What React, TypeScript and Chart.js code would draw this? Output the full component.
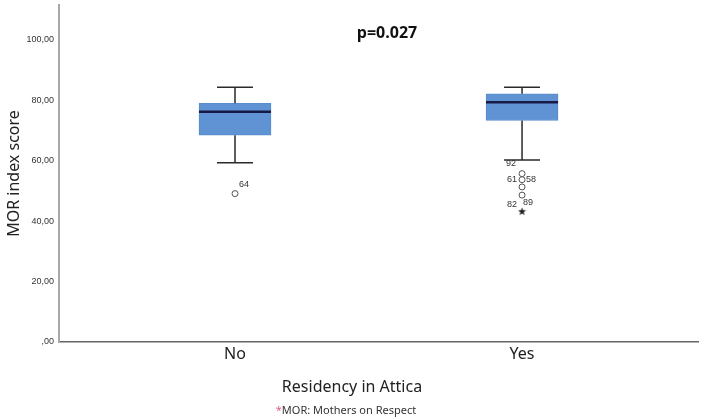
import React, { useEffect, useRef } from "react";
import { Chart, registerables } from "chart.js";

Chart.register(...registerables);

// ---- data ----
const categories = ["No", "Yes"];
const categoryX = [1, 2];
const whiskerLow = [59.3, 60.2];
const q1 = [68.4, 73.3];
const median = [76.2, 79.3];
const q3 = [79.0, 82.1];
const whiskerHigh = [84.3, 84.3];

// outliers (circles) and extremes (stars)
const outlierCat = [0, 1, 1, 1, 1];
const outlierValues = [49.1, 55.7, 53.7, 51.3, 48.6];
const extremeCat = [1];
const extremeValues = [43.2];

// case labels
const labelTexts = ["64", "92", "61", "58", "89", "82"];
const labelCat = [0, 1, 1, 1, 1, 1];
const labelValues = [49.1, 55.7, 53.7, 53.7, 48.6, 43.2];
const labelDx = [9, -11, -10, 9, 6, -10];
const labelDy = [-9, -10, 0, 0, 7, -7];

const yTicks = [0, 20, 40, 60, 80, 100];

const fmt = (v: number) => {
  const s = v.toFixed(2).replace(".", ",");
  return v === 0 ? s.replace(/^0/, "") : s;
};

function makeStar(): HTMLCanvasElement {
  const c = document.createElement("canvas");
  c.width = 9;
  c.height = 9;
  const g = c.getContext("2d")!;
  g.fillStyle = "#222";
  g.beginPath();
  const cx = 4.5, cy = 4.8, R = 4.2, r = 1.8;
  for (let i = 0; i < 10; i++) {
    const a = -Math.PI / 2 + (i * Math.PI) / 5;
    const rad = i % 2 === 0 ? R : r;
    const x = cx + rad * Math.cos(a);
    const y = cy + rad * Math.sin(a);
    if (i === 0) g.moveTo(x, y);
    else g.lineTo(x, y);
  }
  g.closePath();
  g.fill();
  return c;
}

const boxPlugin = {
  id: "boxExtras",
  afterDatasetsDraw(chart: any) {
    const { ctx, scales } = chart;
    const xs = scales.x;
    const ys = scales.y;
    ctx.save();
    for (let i = 0; i < categories.length; i++) {
      const cx = xs.getPixelForValue(categoryX[i]);
      const capHalf = 18;
      const boxHalf = 36;
      ctx.strokeStyle = "#2a2a2a";
      ctx.lineWidth = 1.5;
      // whiskers
      ctx.beginPath();
      ctx.moveTo(cx, ys.getPixelForValue(q3[i]));
      ctx.lineTo(cx, ys.getPixelForValue(whiskerHigh[i]));
      ctx.moveTo(cx - capHalf, ys.getPixelForValue(whiskerHigh[i]));
      ctx.lineTo(cx + capHalf, ys.getPixelForValue(whiskerHigh[i]));
      ctx.moveTo(cx, ys.getPixelForValue(q1[i]));
      ctx.lineTo(cx, ys.getPixelForValue(whiskerLow[i]));
      ctx.moveTo(cx - capHalf, ys.getPixelForValue(whiskerLow[i]));
      ctx.lineTo(cx + capHalf, ys.getPixelForValue(whiskerLow[i]));
      ctx.stroke();
      // median
      ctx.strokeStyle = "#161a45";
      ctx.lineWidth = 2.5;
      ctx.beginPath();
      ctx.moveTo(cx - boxHalf, ys.getPixelForValue(median[i]));
      ctx.lineTo(cx + boxHalf, ys.getPixelForValue(median[i]));
      ctx.stroke();
    }
    // case labels
    ctx.fillStyle = "#333";
    ctx.font = "9px 'Liberation Sans', Arial, sans-serif";
    ctx.textAlign = "center";
    ctx.textBaseline = "middle";
    for (let k = 0; k < labelTexts.length; k++) {
      const px = xs.getPixelForValue(categoryX[labelCat[k]]);
      const py = ys.getPixelForValue(labelValues[k]);
      ctx.fillText(labelTexts[k], px + labelDx[k], py + labelDy[k]);
    }
    ctx.restore();
  },
  afterDraw(chart: any) {
    const { ctx } = chart;
    ctx.save();
    ctx.textAlign = "center";
    ctx.textBaseline = "middle";
    ctx.fillStyle = "#111";
    ctx.font = "bold 16px 'Open Sans', 'Noto Sans', sans-serif";
    ctx.fillText("p=0.027", 387, 33);
    ctx.fillStyle = "#222";
    ctx.font = "16px 'Noto Sans', sans-serif";
    ctx.fillText("Residency in Attica", 352, 387);
    ctx.font = "11px 'Noto Sans', sans-serif";
    const t1 = "*";
    const t2 = "MOR: Mothers on Respect";
    const w1 = ctx.measureText(t1).width;
    const w2 = ctx.measureText(t2).width;
    const start = 346 - (w1 + w2) / 2;
    ctx.textAlign = "left";
    ctx.fillStyle = "#e0607f";
    ctx.fillText(t1, start, 411);
    ctx.fillStyle = "#333";
    ctx.fillText(t2, start + w1, 411);
    ctx.restore();
  },
};

export default function App() {
  const ref = useRef<HTMLCanvasElement | null>(null);
  useEffect(() => {
    if (!ref.current) return;
    const star = makeStar();
    const chart = new Chart(ref.current, {
      type: "bar",
      data: {
        datasets: [
          {
            type: "bar",
            data: categoryX.map((x, i) => ({ x, y: [q1[i], q3[i]] })) as any,
            backgroundColor: "#5f93d4",
            borderColor: "#5a8bcb",
            borderWidth: 1,
            borderSkipped: false,
            barThickness: 72,
          } as any,
          {
            type: "scatter",
            data: outlierValues.map((v, i) => ({ x: categoryX[outlierCat[i]], y: v })),
            pointStyle: "circle",
            pointRadius: 3,
            backgroundColor: "#ffffff",
            borderColor: "#555",
            borderWidth: 1,
          } as any,
          {
            type: "scatter",
            data: extremeValues.map((v, i) => ({ x: categoryX[extremeCat[i]], y: v })),
            pointStyle: star,
            pointRadius: 4,
          } as any,
        ],
      },
      options: {
        responsive: false,
        animation: false,
        layout: { padding: { top: 3, right: 6, left: 0, bottom: 0 } },
        plugins: { legend: { display: false }, tooltip: { enabled: false } },
        scales: {
          x: {
            type: "linear",
            offset: false,
            min: 0.3868,
            max: 2.613,
            grid: { display: false, drawTicks: false, tickLength: 0 },
            border: { display: true, color: "#666666", width: 1.5 },
            afterBuildTicks: (s: any) => {
              s.ticks = categoryX.map((v) => ({ value: v }));
            },
            afterFit: (s: any) => {
              s.height = 77;
              s.paddingLeft = 0;
              s.paddingRight = 0;
            },
            ticks: {
              padding: 3,
              color: "#222",
              maxRotation: 0,
              font: { family: "'Noto Sans', sans-serif", size: 16 },
              callback: (v: any) => categories[categoryX.indexOf(Number(v))] ?? "",
            },
          },
          y: {
            type: "linear",
            min: 0,
            max: 111.5,
            grid: { display: false, drawTicks: false, tickLength: 0 },
            border: { display: true, color: "#a8a8a8", width: 2 },
            afterBuildTicks: (s: any) => {
              s.ticks = yTicks.map((v) => ({ value: v }));
            },
            afterFit: (s: any) => {
              s.width = 59;
              s.paddingTop = 0;
              s.paddingBottom = 0;
            },
            ticks: {
              padding: 5,
              color: "#333",
              font: { family: "'Liberation Sans', Arial, sans-serif", size: 9 },
              callback: (v: any) => fmt(Number(v)),
            },
            title: {
              display: true,
              text: "MOR index score",
              color: "#222",
              font: { family: "'Noto Sans', sans-serif", size: 16 },
              padding: { top: 5, bottom: 0 },
            },
          },
        },
      },
      plugins: [boxPlugin],
    });
    return () => chart.destroy();
  }, []);
  return (
    <div style={{ position: "absolute", left: 0, top: 0, width: 704, height: 419, background: "#fff" }}>
      <canvas ref={ref} width={704} height={419} style={{ width: 704, height: 419 }} />
    </div>
  );
}
